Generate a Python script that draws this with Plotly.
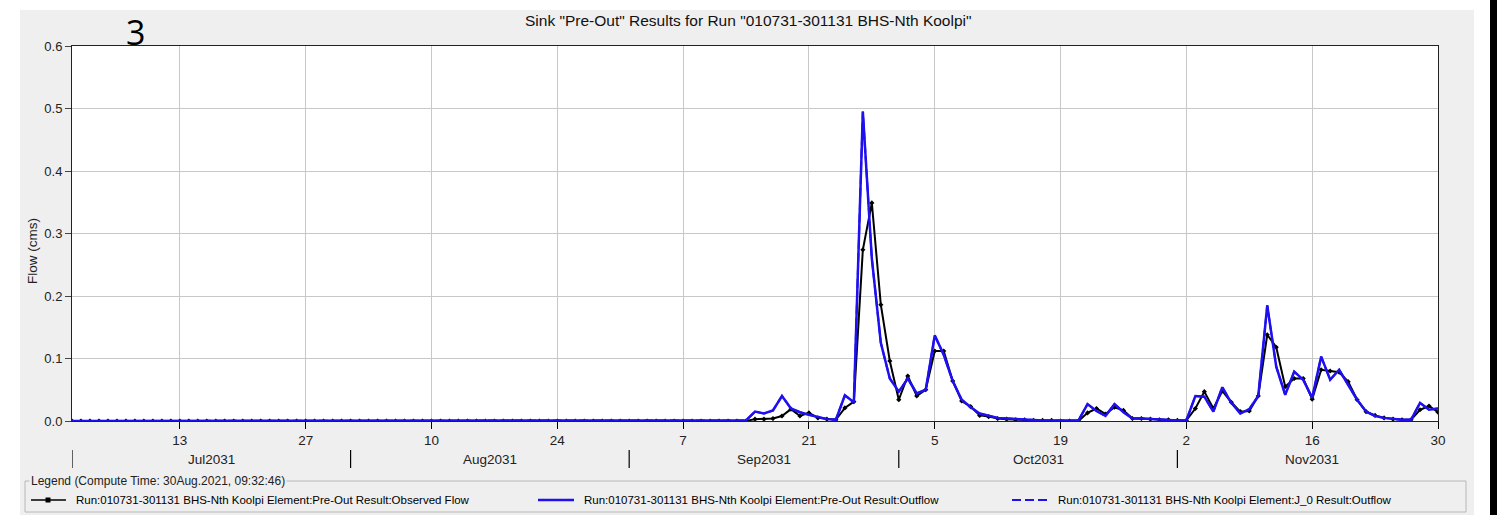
import pandas as pd
import plotly.graph_objects as go

# ---------------- data (daily, 1 Jul 2031 - 30 Nov 2031) ----------------
obs_jul = [0.0, 0.0, 0.0, 0.0, 0.0, 0.0, 0.0, 0.0, 0.0, 0.0, 0.0, 0.0, 0.0, 0.0, 0.0, 0.0,
           0.0, 0.0, 0.0, 0.0, 0.0, 0.0, 0.0, 0.0, 0.0, 0.0, 0.0, 0.0, 0.0, 0.0, 0.0]
obs_aug = [0.0, 0.0, 0.0, 0.0, 0.0, 0.0, 0.0, 0.0, 0.0, 0.0, 0.0, 0.0, 0.0, 0.0, 0.0, 0.0,
           0.0, 0.0, 0.0, 0.0, 0.0, 0.0, 0.0, 0.0, 0.0, 0.0, 0.0, 0.0, 0.0, 0.0, 0.0]
obs_sep = [0.0, 0.0, 0.0, 0.0, 0.0, 0.0, 0.0, 0.0, 0.0, 0.0, 0.0, 0.0, 0.0, 0.0,
           0.003, 0.003, 0.004, 0.008, 0.019, 0.008, 0.013, 0.005, 0.003, 0.002,
           0.021, 0.031, 0.274, 0.349, 0.186, 0.096]
obs_oct = [0.034, 0.072, 0.040, 0.050, 0.112, 0.112, 0.064, 0.032, 0.023, 0.009,
           0.007, 0.004, 0.003, 0.002, 0.002, 0.001, 0.001, 0.001, 0.0, 0.0, 0.0,
           0.013, 0.020, 0.011, 0.022, 0.017, 0.004, 0.004, 0.003, 0.002, 0.002]
obs_nov = [0.001, 0.001, 0.020, 0.047, 0.020, 0.048, 0.030, 0.015, 0.016, 0.040,
           0.138, 0.118, 0.055, 0.068, 0.068, 0.035, 0.082, 0.080, 0.078, 0.063,
           0.034, 0.015, 0.009, 0.005, 0.003, 0.002, 0.002, 0.018, 0.024, 0.014]

out_jul = [0.0, 0.0, 0.0, 0.0, 0.0, 0.0, 0.0, 0.0, 0.0, 0.0, 0.0, 0.0, 0.0, 0.0, 0.0, 0.0,
           0.0, 0.0, 0.0, 0.0, 0.0, 0.0, 0.0, 0.0, 0.0, 0.0, 0.0, 0.0, 0.0, 0.0, 0.0]
out_aug = [0.0, 0.0, 0.0, 0.0, 0.0, 0.0, 0.0, 0.0, 0.0, 0.0, 0.0, 0.0, 0.0, 0.0, 0.0, 0.0,
           0.0, 0.0, 0.0, 0.0, 0.0, 0.0, 0.0, 0.0, 0.0, 0.0, 0.0, 0.0, 0.0, 0.0, 0.0]
out_sep = [0.0, 0.0, 0.0, 0.0, 0.0, 0.0, 0.0, 0.0, 0.0, 0.0, 0.0, 0.0, 0.0, 0.001,
           0.015, 0.012, 0.017, 0.040, 0.020, 0.014, 0.010, 0.006, 0.003, 0.002,
           0.041, 0.030, 0.495, 0.260, 0.125, 0.068]
out_oct = [0.047, 0.068, 0.044, 0.050, 0.137, 0.106, 0.064, 0.034, 0.022, 0.012,
           0.008, 0.005, 0.004, 0.003, 0.002, 0.002, 0.001, 0.001, 0.001, 0.001, 0.001,
           0.027, 0.016, 0.008, 0.027, 0.014, 0.004, 0.004, 0.003, 0.002, 0.002]
out_nov = [0.001, 0.001, 0.040, 0.039, 0.015, 0.054, 0.029, 0.012, 0.019, 0.040,
           0.185, 0.087, 0.042, 0.079, 0.066, 0.037, 0.103, 0.066, 0.082, 0.058,
           0.034, 0.015, 0.008, 0.005, 0.003, 0.002, 0.002, 0.029, 0.018, 0.020]

observed_flow = obs_jul + obs_aug + obs_sep + obs_oct + obs_nov
preout_outflow = out_jul + out_aug + out_sep + out_oct + out_nov
j0_outflow = preout_outflow  # junction outflow coincides with Pre-Out outflow

dates = pd.date_range("2031-07-01", "2031-11-30", freq="D")

tick_dates = ["2031-07-13", "2031-07-27", "2031-08-10", "2031-08-24", "2031-09-07",
              "2031-09-21", "2031-10-05", "2031-10-19", "2031-11-02", "2031-11-16",
              "2031-11-30"]
tick_text = ["13", "27", "10", "24", "7", "21", "5", "19", "2", "16", "30"]
month_starts = ["2031-07-01", "2031-08-01", "2031-09-01", "2031-10-01", "2031-11-01"]
month_ends = ["2031-08-01", "2031-09-01", "2031-10-01", "2031-11-01", "2031-12-01"]
month_labels = ["Jul2031", "Aug2031", "Sep2031", "Oct2031", "Nov2031"]

name_obs = "Run:010731-301131 BHS-Nth Koolpi Element:Pre-Out Result:Observed Flow"
name_out = "Run:010731-301131 BHS-Nth Koolpi Element:Pre-Out Result:Outflow"
name_j0 = "Run:010731-301131 BHS-Nth Koolpi Element:J_0 Result:Outflow"

# ---------------- geometry helpers (pixel -> paper) ----------------
W, H = 1497, 515
PL, PR, PT, PB = 72, 1438, 46, 421   # plot area in pixels


def px(x):
    return (x - PL) / (PR - PL)


def py(y):
    return (PB - y) / (PB - PT)


FONT = "Liberation Sans, Arial, sans-serif"
GRAY = "#efefef"
BLUE = "#1f10f0"

fig = go.Figure()
fig.add_trace(go.Scatter(
    x=dates, y=observed_flow, mode="lines+markers", name=name_obs,
    line=dict(color="black", width=2),
    marker=dict(symbol="diamond", size=4, color="black")))
fig.add_trace(go.Scatter(
    x=dates, y=preout_outflow, mode="lines", name=name_out,
    line=dict(color=BLUE, width=2.5)))
fig.add_trace(go.Scatter(
    x=dates, y=j0_outflow, mode="lines", name=name_j0,
    line=dict(color=BLUE, width=2, dash="9px,4px")))

shapes = []
# white page margins and black right strip
shapes.append(dict(type="rect", xref="paper", yref="paper", x0=px(-5), x1=px(W + 20), y0=py(10), y1=py(-5),
                   fillcolor="white", line=dict(width=0), layer="below"))
shapes.append(dict(type="rect", xref="paper", yref="paper", x0=px(-5), x1=px(20), y0=py(H + 5), y1=py(-5),
                   fillcolor="white", line=dict(width=0), layer="below"))
shapes.append(dict(type="rect", xref="paper", yref="paper", x0=px(1474), x1=px(1490), y0=py(H + 5), y1=py(-5),
                   fillcolor="white", line=dict(width=0), layer="below"))
shapes.append(dict(type="rect", xref="paper", yref="paper", x0=px(1490), x1=px(W + 20), y0=py(H + 5), y1=py(-5),
                   fillcolor="black", line=dict(width=0), layer="above"))
# legend frame
shapes.append(dict(type="rect", xref="paper", yref="paper", x0=px(25), x1=px(1466), y0=py(512), y1=py(481),
                   fillcolor="rgba(0,0,0,0)", line=dict(color="#b8b8b8", width=1)))
# month separators
for ms in month_starts:
    shapes.append(dict(type="line", xref="x", yref="paper", x0=ms, x1=ms, y0=py(450), y1=py(468),
                       line=dict(color="black", width=1.2)))

# legend samples (drawn manually so that the plot margins stay fixed)
LEG_Y = 500
legend_items = [
    (name_obs, 31, 66, 74, dict(color="black", width=1.5)),
    (name_out, 538, 574, 582, dict(color=BLUE, width=2.5)),
    (name_j0, 1012, 1049, 1056, dict(color=BLUE, width=2, dash="9px,4px")),
]
annotations = []
for label, x0, x1, xt, ln in legend_items:
    shapes.append(dict(type="line", xref="paper", yref="paper", x0=px(x0), x1=px(x1),
                       y0=py(LEG_Y), y1=py(LEG_Y), line=ln))
    annotations.append(dict(x=px(xt), y=py(LEG_Y), xref="paper", yref="paper", text=label,
                            showarrow=False, font=dict(family=FONT, size=11.5, color="black"),
                            xanchor="left", yanchor="middle"))
shapes.append(dict(type="rect", xref="paper", yref="paper", xsizemode="pixel", ysizemode="pixel",
                   xanchor=px(48), yanchor=py(LEG_Y), x0=-2.5, x1=2.5, y0=-2.5, y1=2.5,
                   fillcolor="black", line=dict(width=0)))

for s, e, lab in zip(month_starts, month_ends, month_labels):
    mid = pd.Timestamp(s) + (pd.Timestamp(e) - pd.Timestamp(s)) / 2
    annotations.append(dict(x=mid, y=py(459), xref="x", yref="paper", text=lab, showarrow=False,
                            font=dict(family=FONT, size=13.5, color="#222"), xanchor="center", yanchor="middle"))
annotations.append(dict(x=px(748), y=py(20), xref="paper", yref="paper",
                        text='Sink "Pre-Out" Results for Run "010731-301131 BHS-Nth Koolpi"',
                        showarrow=False, font=dict(family=FONT, size=15.5, color="#111"),
                        xanchor="center", yanchor="middle"))
annotations.append(dict(x=px(135), y=py(32), xref="paper", yref="paper", text="3", showarrow=False,
                        font=dict(family="Open Sans, Liberation Sans, sans-serif", size=34, color="black"),
                        xanchor="center", yanchor="middle"))
annotations.append(dict(x=px(32), y=py(251), xref="paper", yref="paper", text="Flow (cms)", showarrow=False,
                        textangle=-90, font=dict(family=FONT, size=13.5, color="#222"),
                        xanchor="center", yanchor="middle"))
annotations.append(dict(x=px(29), y=py(481), xref="paper", yref="paper",
                        text="Legend (Compute Time: 30Aug.2021, 09:32:46)", showarrow=False,
                        font=dict(family=FONT, size=12, color="#222"), bgcolor=GRAY,
                        xanchor="left", yanchor="middle", borderpad=1))

fig.update_layout(
    width=W, height=H,
    margin=dict(l=PL, r=W - PR, t=PT, b=H - PB, pad=0, autoexpand=False),
    paper_bgcolor=GRAY, plot_bgcolor="white",
    showlegend=False, hovermode=False,
    shapes=shapes, annotations=annotations,
    xaxis=dict(type="date", range=["2031-07-01", "2031-11-30"],
               tickvals=tick_dates, ticktext=tick_text,
               ticks="outside", ticklen=7, tickcolor="black",
               showgrid=True, gridcolor="#c8c8c8", gridwidth=1,
               showline=True, linecolor="#222", linewidth=1, mirror=True,
               tickfont=dict(family=FONT, size=13.5, color="#222"), zeroline=False),
    yaxis=dict(range=[0, 0.6], tickvals=[0, 0.1, 0.2, 0.3, 0.4, 0.5, 0.6],
               tickformat=".1f", ticks="outside", ticklen=6, tickcolor="#444",
               showgrid=True, gridcolor="#c8c8c8", gridwidth=1,
               showline=True, linecolor="#222", linewidth=1, mirror=True,
               tickfont=dict(family=FONT, size=13, color="#222"), zeroline=False),
)

# remove the default page margin so the figure fills the 1497x515 window exactly
fig.write_html("out.html",
               config={"displayModeBar": False},
               post_script="document.body.style.margin='0px';"
                           "document.documentElement.style.overflow='hidden';")
